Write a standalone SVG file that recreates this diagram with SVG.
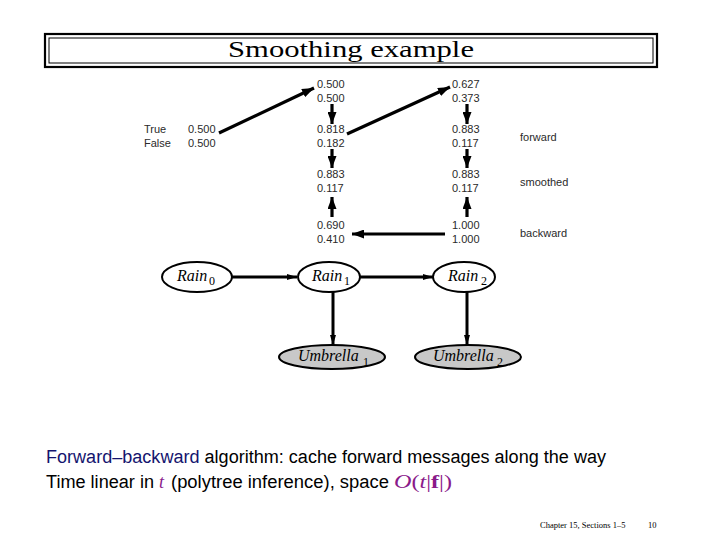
<svg xmlns="http://www.w3.org/2000/svg" width="720" height="540" viewBox="0 0 720 540">
<style>
.num{font-family:"Liberation Sans",Arial,sans-serif;font-size:11px;fill:#2a2a2a}
.lbl{font-family:"Liberation Sans",Arial,sans-serif;font-size:11px;fill:#2a2a2a}
.node{fill:#fff;stroke:#000;stroke-width:2}
.obs{fill:#c8c8c8;stroke:#000;stroke-width:2}
.nt{font-family:"Liberation Serif","Times New Roman",serif;font-style:italic;font-size:16px;fill:#000}
.sub{font-family:"Liberation Serif","Times New Roman",serif;font-size:12px;fill:#000}
.arr{stroke:#000;stroke-width:3.2;fill:none;marker-end:url(#ah)}
.garr{stroke:#000;stroke-width:3;fill:none;marker-end:url(#gh)}
.body{font-family:"Liberation Sans",Arial,sans-serif;font-size:18px;fill:#000}
.math{font-family:"Liberation Serif","Times New Roman",serif;font-size:18px;fill:#8a1a8a}
</style>
<defs>
<marker id="ah" viewBox="0 0 12 9" refX="12" refY="4.5" markerWidth="12" markerHeight="9" markerUnits="userSpaceOnUse" orient="auto">
<path d="M0,0 L12,4.5 L0,9 z" fill="#000"/>
</marker>
<marker id="gh" viewBox="0 0 10 6" refX="10" refY="3" markerWidth="10" markerHeight="6" markerUnits="userSpaceOnUse" orient="auto">
<path d="M0,0 L10,3 L0,6 z" fill="#000"/>
</marker>
</defs>
<rect width="720" height="540" fill="#fff"/>
<g id="title">
<rect x="45" y="34" width="612" height="33" fill="none" stroke="#000" stroke-width="2.2"/>
<rect x="49" y="38" width="604" height="25" fill="none" stroke="#000" stroke-width="1"/>
<text x="351" y="57" text-anchor="middle" textLength="246" lengthAdjust="spacingAndGlyphs" font-family="Liberation Serif,'Times New Roman',serif" font-size="23" fill="#000">Smoothing example</text>
</g>
<g id="prior">
<text class="lbl" x="144" y="132.5">True</text>
<text class="lbl" x="144" y="146.5">False</text>
<text class="num" x="188" y="132.5">0.500</text>
<text class="num" x="188" y="146.5">0.500</text>
</g>
<g id="col1">
<text class="num" x="317" y="87.5">0.500</text>
<text class="num" x="317" y="101.5">0.500</text>
<text class="num" x="317" y="133">0.818</text>
<text class="num" x="317" y="146.5">0.182</text>
<text class="num" x="317" y="177.5">0.883</text>
<text class="num" x="317" y="191.5">0.117</text>
<text class="num" x="317" y="229">0.690</text>
<text class="num" x="317" y="243">0.410</text>
</g>
<g id="col2">
<text class="num" x="452" y="87.5">0.627</text>
<text class="num" x="452" y="101.5">0.373</text>
<text class="num" x="452" y="133">0.883</text>
<text class="num" x="452" y="146.5">0.117</text>
<text class="num" x="452" y="177.5">0.883</text>
<text class="num" x="452" y="191.5">0.117</text>
<text class="num" x="452" y="229">1.000</text>
<text class="num" x="452" y="243">1.000</text>
</g>
<g id="rowlabels">
<text class="lbl" x="520" y="140.5">forward</text>
<text class="lbl" x="520" y="185.5">smoothed</text>
<text class="lbl" x="520" y="237">backward</text>
</g>
<g id="rain0">
<ellipse class="node" cx="197" cy="277" rx="35" ry="15"/>
<text class="nt" x="177" y="281">Rain</text><text class="sub" x="209" y="285">0</text>
</g>
<g id="rain1">
<ellipse class="node" cx="329" cy="277" rx="31" ry="15"/>
<text class="nt" x="312" y="281">Rain</text><text class="sub" x="344" y="285">1</text>
</g>
<g id="rain2">
<ellipse class="node" cx="464" cy="277" rx="31" ry="15"/>
<text class="nt" x="448" y="281">Rain</text><text class="sub" x="481" y="285">2</text>
</g>
<g id="umbrella1">
<ellipse class="obs" cx="332" cy="357" rx="53" ry="12"/>
<text class="nt" x="298" y="361">Umbrella</text><text class="sub" x="363" y="366">1</text>
</g>
<g id="umbrella2">
<ellipse class="obs" cx="468" cy="357" rx="53" ry="12"/>
<text class="nt" x="433" y="361">Umbrella</text><text class="sub" x="497" y="366">2</text>
</g>
<g id="connectors">
<line class="arr" x1="219" y1="133" x2="314" y2="88"/>
<line class="arr" x1="347" y1="134" x2="450" y2="87"/>
<line class="arr" x1="332" y1="104" x2="332" y2="124"/>
<line class="arr" x1="332" y1="149" x2="332" y2="168"/>
<line class="arr" x1="332" y1="217" x2="332" y2="197"/>
<line class="arr" x1="467" y1="104" x2="467" y2="124"/>
<line class="arr" x1="467" y1="149" x2="467" y2="168"/>
<line class="arr" x1="467" y1="217" x2="467" y2="197"/>
<line class="arr" x1="445" y1="234" x2="352" y2="234"/>
<line class="garr" x1="232" y1="277" x2="297" y2="277"/>
<line class="garr" x1="360" y1="277" x2="433" y2="277"/>
<line class="garr" x1="333" y1="292" x2="333" y2="345"/>
<line class="garr" x1="467" y1="292" x2="467" y2="345"/>
</g>
<g id="bodytext">
<text class="body" x="46" y="463" textLength="560" lengthAdjust="spacingAndGlyphs"><tspan fill="#14146e">Forward–backward</tspan> algorithm: cache forward messages along the way</text>
<text class="body" x="46" y="488" textLength="108" lengthAdjust="spacingAndGlyphs">Time linear in</text>
<text class="math" x="159" y="488" font-style="italic">t</text>
<text class="body" x="171" y="488" textLength="218" lengthAdjust="spacingAndGlyphs">(polytree inference), space</text>
<text class="math" x="394" y="488" textLength="58" lengthAdjust="spacingAndGlyphs"><tspan font-style="italic">O</tspan>(<tspan font-style="italic">t</tspan>|<tspan font-weight="bold">f</tspan>|)</text>
</g>
<g id="footer">
<text x="540" y="528" font-family="Liberation Serif,serif" font-size="8.5" fill="#000">Chapter 15, Sections 1–5</text>
<text x="648" y="528" font-family="Liberation Serif,serif" font-size="8.5" fill="#000">10</text>
</g>
</svg>
